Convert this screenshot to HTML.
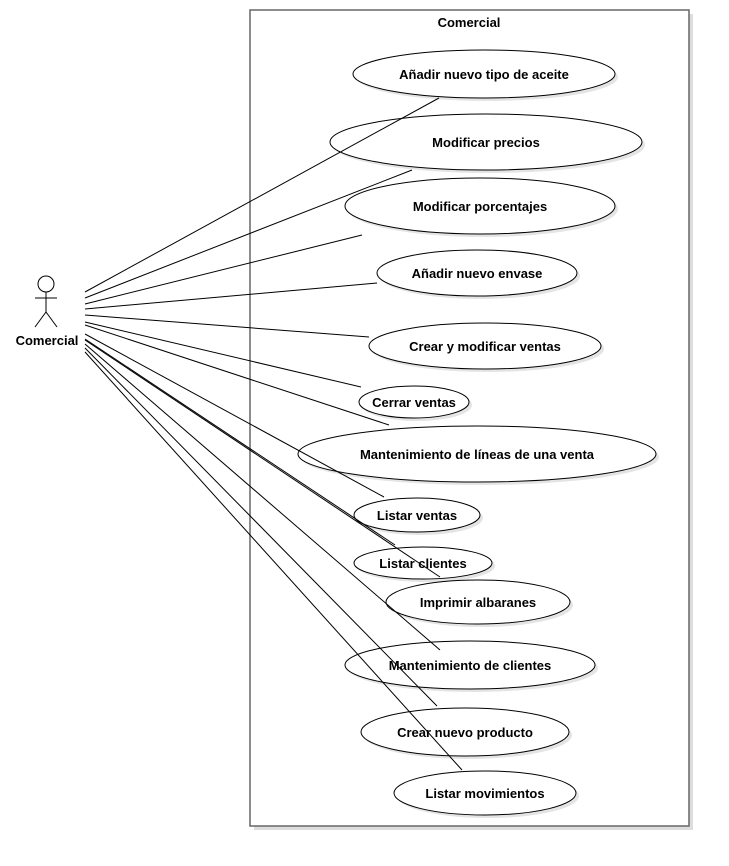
<!DOCTYPE html>
<html><head><style>body{margin:0;background:#fff}svg{display:block}text{font-family:"Liberation Sans",sans-serif;font-weight:bold;font-size:13px;fill:#000}</style></head><body>
<svg width="729" height="866" viewBox="0 0 729 866">
<rect x="254" y="14" width="439" height="816" fill="#ddd"/>
<rect x="250" y="10" width="439" height="816" fill="#fff" stroke="#666" stroke-width="1.5"/>
<text x="469" y="27" text-anchor="middle">Comercial</text>
<g fill="#fff" stroke="#000" stroke-width="1">
<g fill="#e4e4e4" stroke="none">
<ellipse cx="487" cy="77" rx="131" ry="24"/><ellipse cx="489" cy="145" rx="156" ry="28"/><ellipse cx="483" cy="209" rx="135" ry="28"/><ellipse cx="480" cy="276" rx="100" ry="23"/><ellipse cx="488" cy="349" rx="116" ry="23"/><ellipse cx="417" cy="405" rx="55" ry="16"/><ellipse cx="480" cy="457" rx="179" ry="28"/><ellipse cx="420" cy="518" rx="63" ry="17"/><ellipse cx="426" cy="566" rx="69" ry="16"/><ellipse cx="481" cy="605" rx="92" ry="22"/><ellipse cx="473" cy="668" rx="125" ry="24"/><ellipse cx="468" cy="735" rx="104" ry="24"/><ellipse cx="488" cy="796" rx="91" ry="22"/>
</g>
<ellipse cx="484" cy="74" rx="131" ry="24"/><ellipse cx="486" cy="142" rx="156" ry="28"/><ellipse cx="480" cy="206" rx="135" ry="28"/><ellipse cx="477" cy="273" rx="100" ry="23"/><ellipse cx="485" cy="346" rx="116" ry="23"/><ellipse cx="414" cy="402" rx="55" ry="16"/><ellipse cx="477" cy="454" rx="179" ry="28"/><ellipse cx="417" cy="515" rx="63" ry="17"/><ellipse cx="423" cy="563" rx="69" ry="16"/><ellipse cx="478" cy="602" rx="92" ry="22"/><ellipse cx="470" cy="665" rx="125" ry="24"/><ellipse cx="465" cy="732" rx="104" ry="24"/><ellipse cx="485" cy="793" rx="91" ry="22"/>
</g>
<g stroke="#000" stroke-width="1" fill="none">
<line x1="85" y1="292" x2="439" y2="98"/>
<line x1="85" y1="298" x2="412" y2="170"/>
<line x1="85" y1="304" x2="362" y2="235"/>
<line x1="85" y1="309" x2="377" y2="283"/>
<line x1="85" y1="315" x2="369" y2="337"/>
<line x1="85" y1="322" x2="361" y2="387"/>
<line x1="85" y1="325" x2="389" y2="425"/>
<line x1="85" y1="334" x2="384" y2="497"/>
<line x1="85" y1="339" x2="395" y2="545"/>
<line x1="85" y1="340" x2="440" y2="577"/>
<line x1="85" y1="344" x2="440" y2="650"/>
<line x1="85" y1="348" x2="437" y2="706"/>
<line x1="85" y1="352" x2="462" y2="770"/>
<circle cx="46" cy="284" r="8"/>
<line x1="46" y1="292" x2="46" y2="312"/>
<line x1="35" y1="298" x2="57" y2="298"/>
<line x1="46" y1="312" x2="35" y2="327"/>
<line x1="46" y1="312" x2="57" y2="327"/>
</g>
<text x="47" y="345" text-anchor="middle">Comercial</text>
<g text-anchor="middle">
<text x="484" y="79">Añadir nuevo tipo de aceite</text>
<text x="486" y="147">Modificar precios</text>
<text x="480" y="211">Modificar porcentajes</text>
<text x="477" y="278">Añadir nuevo envase</text>
<text x="485" y="351">Crear y modificar ventas</text>
<text x="414" y="407">Cerrar ventas</text>
<text x="477" y="459">Mantenimiento de líneas de una venta</text>
<text x="417" y="520">Listar ventas</text>
<text x="423" y="568">Listar clientes</text>
<text x="478" y="607">Imprimir albaranes</text>
<text x="470" y="670">Mantenimiento de clientes</text>
<text x="465" y="737">Crear nuevo producto</text>
<text x="485" y="798">Listar movimientos</text>
</g>
</svg>
</body></html>
